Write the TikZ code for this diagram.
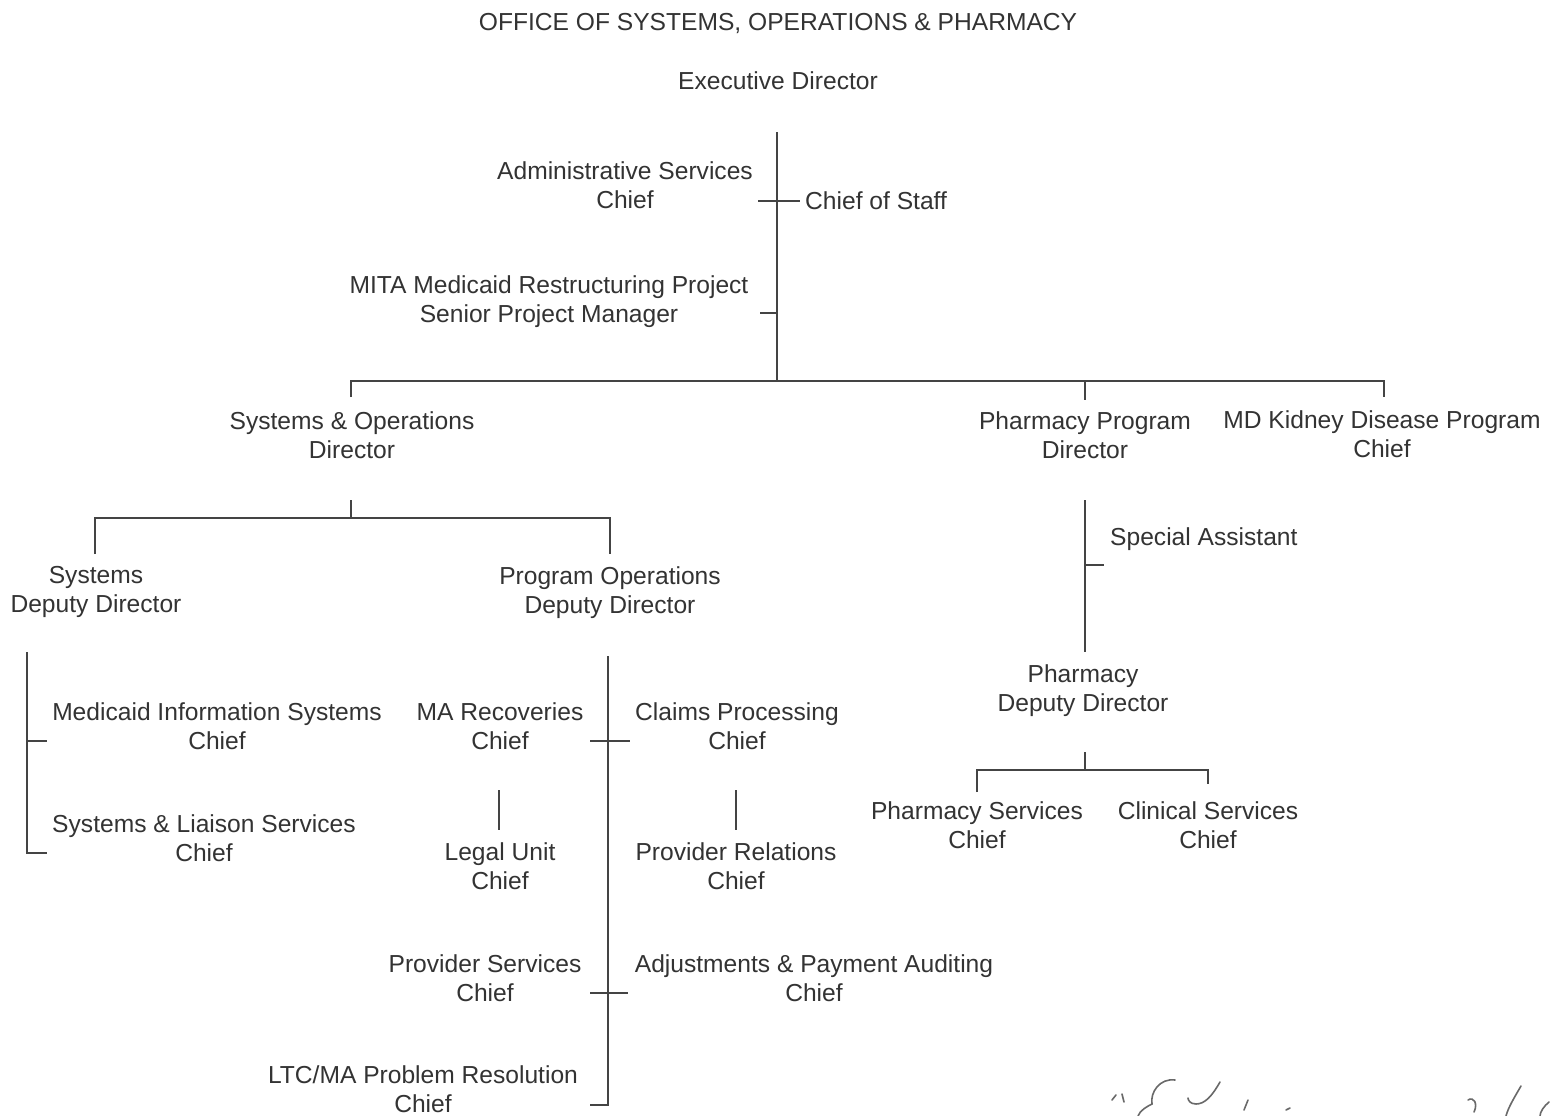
\documentclass[tikz,border=0pt]{standalone}
\usepackage{fontspec}
\setmainfont{Liberation Sans}
\definecolor{textgray}{HTML}{333333}
\definecolor{linegray}{HTML}{444444}
\begin{document}
\begin{tikzpicture}[x=1pt,y=-1pt,
  ink/.style={draw=linegray, line width=1.4pt},
  sig/.style={draw=linegray!80, line width=1.6pt, line cap=round},
  lab/.style={inner sep=0pt, anchor=north, align=center, text=textgray,
              font=\fontsize{24.6}{29.6}\selectfont},
  labw/.style={lab, anchor=north west}]
\useasboundingbox[fill=white] (0,0) rectangle (1551,1116);

% ---- texts ----
\node[lab] (title) at (778,13) {OFFICE OF SYSTEMS, OPERATIONS \& PHARMACY};
\node[lab] (ed) at (778,71) {Executive Director};
\node[lab] (adm) at (625,161) {Administrative Services\\Chief};
\node[labw] (cos) at (805,191) {Chief of Staff};
\node[lab] (mita) at (549,275) {MITA Medicaid Restructuring Project\\Senior Project Manager};
\node[lab] (sod) at (352,411) {Systems \& Operations\\Director};
\node[lab] (ppd) at (1085,411) {Pharmacy Program\\Director};
\node[lab] (mdk) at (1382,410) {MD Kidney Disease Program\\Chief};
\node[lab] (sdd) at (96,566) {Systems\\Deputy Director};
\node[lab] (podd) at (610,566) {Program Operations\\Deputy Director};
\node[lab] (mis) at (217,702) {Medicaid Information Systems\\Chief};
\node[lab] (sls) at (204,814) {Systems \& Liaison Services\\Chief};
\node[lab] (mar) at (500,702) {MA Recoveries\\Chief};
\node[lab] (cpc) at (737,702) {Claims Processing\\Chief};
\node[lab] (luc) at (500,842) {Legal Unit\\Chief};
\node[lab] (prc) at (736,842) {Provider Relations\\Chief};
\node[lab] (psc) at (485,954) {Provider Services\\Chief};
\node[lab] (apa) at (814,954) {Adjustments \& Payment Auditing\\Chief};
\node[lab] (ltc) at (423,1065) {LTC/MA Problem Resolution\\Chief};
\node[labw] (spa) at (1110,527) {Special Assistant};
\node[lab] (phdd) at (1083,664) {Pharmacy\\Deputy Director};
\node[lab] (phs) at (977,801) {Pharmacy Services\\Chief};
\node[lab] (cls) at (1208,801) {Clinical Services\\Chief};

% ---- connector points ----
\coordinate (edB) at (777,132);
\coordinate (edJ) at (777,381);
\coordinate (barL) at (351,381);
\coordinate (barR) at (1384,381);
\coordinate (sodT) at (351,397);
\coordinate (ppdJ) at (1085,381);
\coordinate (ppdT) at (1085,400);
\coordinate (mdkT) at (1384,397);
\coordinate (admE) at (758,201);
\coordinate (cosW) at (800,201);
\coordinate (mitaE) at (760,313);
\coordinate (mitaJ) at (777,313);

\coordinate (sodB) at (351,500);
\coordinate (sodJ) at (351,518);
\coordinate (sbarL) at (95,518);
\coordinate (sbarR) at (610,518);
\coordinate (sddT) at (95,554);
\coordinate (poddT) at (610,554);

\coordinate (sddB) at (27,652);
\coordinate (sddJ1) at (27,741);
\coordinate (misW) at (47,741);
\coordinate (sddJ2) at (27,853);
\coordinate (slsW) at (47,853);

\coordinate (poddB) at (608,656);
\coordinate (poddE) at (608,1105);
\coordinate (ltcE) at (590,1105);
\coordinate (marE) at (590,741);
\coordinate (cpcW) at (630,741);
\coordinate (pscE) at (590,993);
\coordinate (apaW) at (628,993);
\coordinate (marB) at (499,790);
\coordinate (lucT) at (499,830);
\coordinate (cpcB) at (736,790);
\coordinate (prcT) at (736,830);

\coordinate (ppdB) at (1085,500);
\coordinate (phddT) at (1085,652);
\coordinate (spaJ) at (1085,565);
\coordinate (spaW) at (1104,565);
\coordinate (phddB) at (1085,752);
\coordinate (phddJ) at (1085,770);
\coordinate (pbarL) at (977,770);
\coordinate (pbarR) at (1208,770);
\coordinate (phsT) at (977,792);
\coordinate (clsT) at (1208,784);

% ---- connectors ----
\draw[ink] (edB) -- (edJ);
\draw[ink] (admE) -- (cosW);
\draw[ink] (mitaE) -- (mitaJ);
\draw[ink] (sodT) -- (barL) -- (barR) -- (mdkT);
\draw[ink] (ppdJ) -- (ppdT);

\draw[ink] (sodB) -- (sodJ);
\draw[ink] (sddT) -- (sbarL) -- (sbarR) -- (poddT);

\draw[ink] (sddB) -- (sddJ2) -- (slsW);
\draw[ink] (sddJ1) -- (misW);

\draw[ink] (poddB) -- (poddE) -- (ltcE);
\draw[ink] (marE) -- (cpcW);
\draw[ink] (pscE) -- (apaW);
\draw[ink] (marB) -- (lucT);
\draw[ink] (cpcB) -- (prcT);

\draw[ink] (ppdB) -- (phddT);
\draw[ink] (spaJ) -- (spaW);
\draw[ink] (phddB) -- (phddJ);
\draw[ink] (phsT) -- (pbarL) -- (pbarR) -- (clsT);

% ---- signature scribble ----
\draw[sig] (1122,1094) -- (1124,1102);
\draw[sig] (1112,1100) -- (1116,1095);
\draw[sig] (1175,1080) .. controls (1160,1078) and (1150,1092) .. (1152,1104)
           .. controls (1148,1106) and (1140,1110) .. (1138,1116);
\draw[sig] (1220,1082) .. controls (1212,1096) and (1205,1104) .. (1196,1104)
           .. controls (1190,1104) and (1188,1100) .. (1188,1098);
\draw[sig] (1248,1100) -- (1244,1110);
\draw[sig] (1286,1110) -- (1290,1108);
\draw[sig] (1468,1100) .. controls (1474,1096) and (1478,1104) .. (1474,1112);
\draw[sig] (1521,1086) .. controls (1514,1098) and (1508,1108) .. (1506,1116);
\draw[sig] (1549,1102) .. controls (1544,1106) and (1540,1112) .. (1540,1116);
\end{tikzpicture}
\end{document}
